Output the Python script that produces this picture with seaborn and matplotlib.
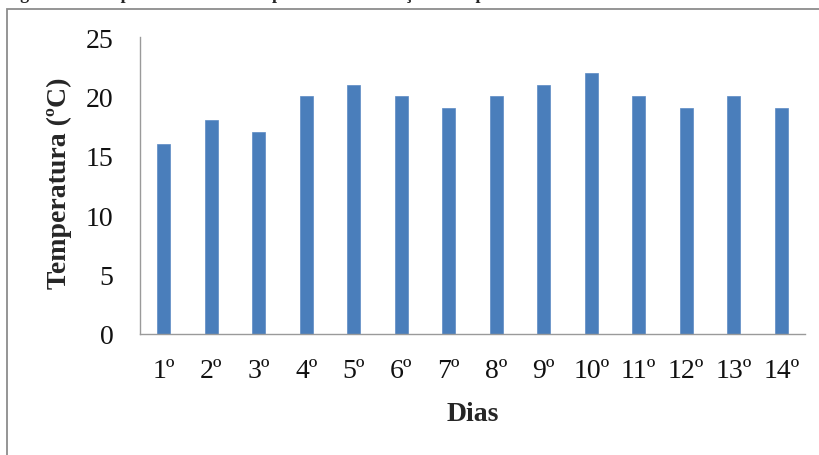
import matplotlib
matplotlib.use("Agg")
import matplotlib.pyplot as plt
import seaborn as sns
import pandas as pd
from matplotlib.patches import Rectangle

dias = ["1º", "2º", "3º", "4º", "5º", "6º", "7º", "8º", "9º", "10º", "11º", "12º", "13º", "14º"]
temperatura = [16, 18, 17, 20, 21, 20, 19, 20, 21, 22, 20, 19, 20, 19]
yticks = [0, 5, 10, 15, 20, 25]

sns.set_theme(style="white")
plt.rcParams["font.family"] = ["Liberation Serif", "DejaVu Serif"]

df = pd.DataFrame({"Dias": dias, "Temperatura": temperatura})

fig = plt.figure(figsize=(8.19, 4.56), dpi=100)
ax = fig.add_axes([140/819, 1-335/456, (805-140)/819, (335-38)/456])

sns.barplot(data=df, x="Dias", y="Temperatura", color="#4A7EBB", saturation=1,
            width=0.28, ax=ax)
for p in ax.patches:
    p.set_edgecolor("#5B8AC4")
    p.set_linewidth(0.5)

ax.set_xlim(-0.5, len(dias) - 0.5)
ax.set_ylim(0, 25)
ax.set_yticks(yticks)
ax.set_yticklabels([str(v) for v in yticks])

for s in ["top", "right"]:
    ax.spines[s].set_visible(False)
for s in ["left", "bottom"]:
    ax.spines[s].set_color("#9a9a9a")
    ax.spines[s].set_linewidth(1.0)

ax.tick_params(axis="both", length=0, labelsize=20, colors="#111111")
ax.tick_params(axis="y", pad=19)
ax.tick_params(axis="x", pad=17)

ax.set_xlabel("Dias", fontsize=20, fontweight="bold")
ax.xaxis.set_label_coords(0.5, -0.225)
ax.set_ylabel("Temperatura (ºC)", fontsize=20, fontweight="bold")
ax.yaxis.set_label_coords(-0.102, 0.51)

# outer frame of the embedded chart
frame = Rectangle((7/819, -0.05), 1.2, 1 - 10/456 + 0.05, transform=fig.transFigure,
                  fill=False, edgecolor="#8c8c8c", linewidth=1.3, clip_on=False)
fig.add_artist(frame)

# caption cut off at the top of the image
fig.text(4/819, 1 + 1/456, "Figura 6 – Temperatura durante o período de condução do experimento",
         fontsize=13, fontweight="bold", va="baseline", ha="left")

fig.savefig("out.png", dpi=100)
